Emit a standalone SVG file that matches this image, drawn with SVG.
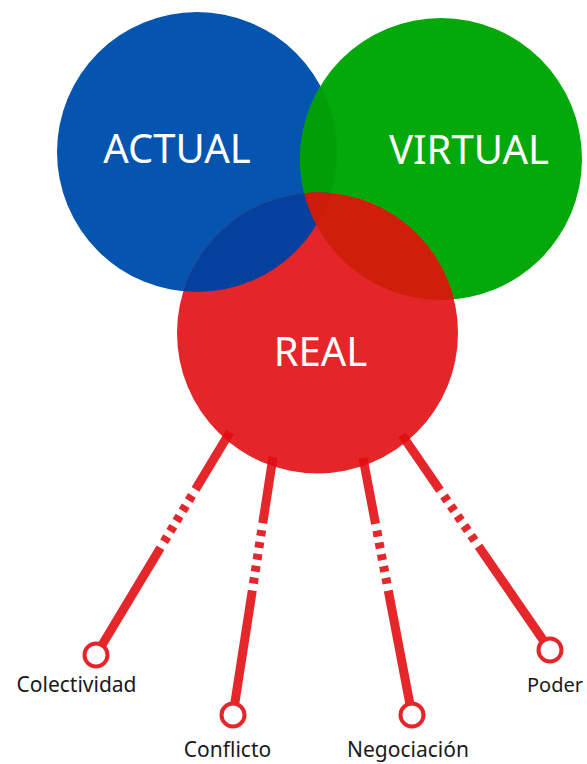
<svg xmlns="http://www.w3.org/2000/svg" width="587" height="764" viewBox="0 0 587 764">
<style>
.big{font-family:"Noto Sans","Open Sans",sans-serif;font-size:40px;fill:#fff}
.lbl{font-family:"Noto Sans","Open Sans",sans-serif;font-size:21px;fill:#1a1a1a}
.link{fill:none;stroke:#e20b10;stroke-opacity:0.89;stroke-width:9;stroke-dasharray:67 7 6 6 6 6 6 6 6 6 6 7 1000}
.ring{fill:#fff;stroke:#e4262a;stroke-width:4}
</style>
<defs>
<clipPath id="cb"><circle cx="197" cy="152" r="140"/></clipPath>
<clipPath id="cg"><circle cx="441" cy="159" r="141"/></clipPath>
</defs>
<rect width="587" height="764" fill="#fff"/>
<g id="actual">
<circle cx="197" cy="152" r="140" fill="#0555b0"/>
</g>
<g id="virtual">
<circle cx="441" cy="159" r="141" fill="#03a90a"/>
<circle cx="441" cy="159" r="141" fill="#029e08" clip-path="url(#cb)"/>
</g>
<g id="real">
<circle cx="317.5" cy="333" r="140.5" fill="#e4262a"/>
<circle cx="317.5" cy="333" r="140.5" fill="#04409e" clip-path="url(#cb)"/>
<g clip-path="url(#cg)">
<circle cx="317.5" cy="333" r="140.5" fill="#cf1e0a"/>
<circle cx="317.5" cy="333" r="140.5" fill="#c91c0a" clip-path="url(#cb)"/>
</g>
</g>
<text class="big" x="177" y="163" text-anchor="middle">ACTUAL</text>
<text class="big" x="469" y="164" text-anchor="middle">VIRTUAL</text>
<text class="big" x="320.5" y="366" text-anchor="middle">REAL</text>
<g id="connectors">
<path class="link" d="M230,432 L96,655"/>
<path class="link" d="M273,457 L233,715"/>
<path class="link" d="M363,458 L412,715"/>
<path class="link" d="M402,435 L550,650"/>
</g>
<g id="colectividad">
<circle class="ring" cx="96" cy="655" r="11.5"/>
<text class="lbl" x="76.5" y="692" text-anchor="middle">Colectividad</text>
</g>
<g id="conflicto">
<circle class="ring" cx="233" cy="715" r="11.5"/>
<text class="lbl" x="227.5" y="757" text-anchor="middle">Conflicto</text>
</g>
<g id="negociacion">
<circle class="ring" cx="412" cy="715" r="11.5"/>
<text class="lbl" x="408" y="757" text-anchor="middle">Negociación</text>
</g>
<g id="poder">
<circle class="ring" cx="550" cy="650" r="11.5"/>
<text class="lbl" x="527" y="692" style="font-size:20px">Poder</text>
</g>
</svg>
